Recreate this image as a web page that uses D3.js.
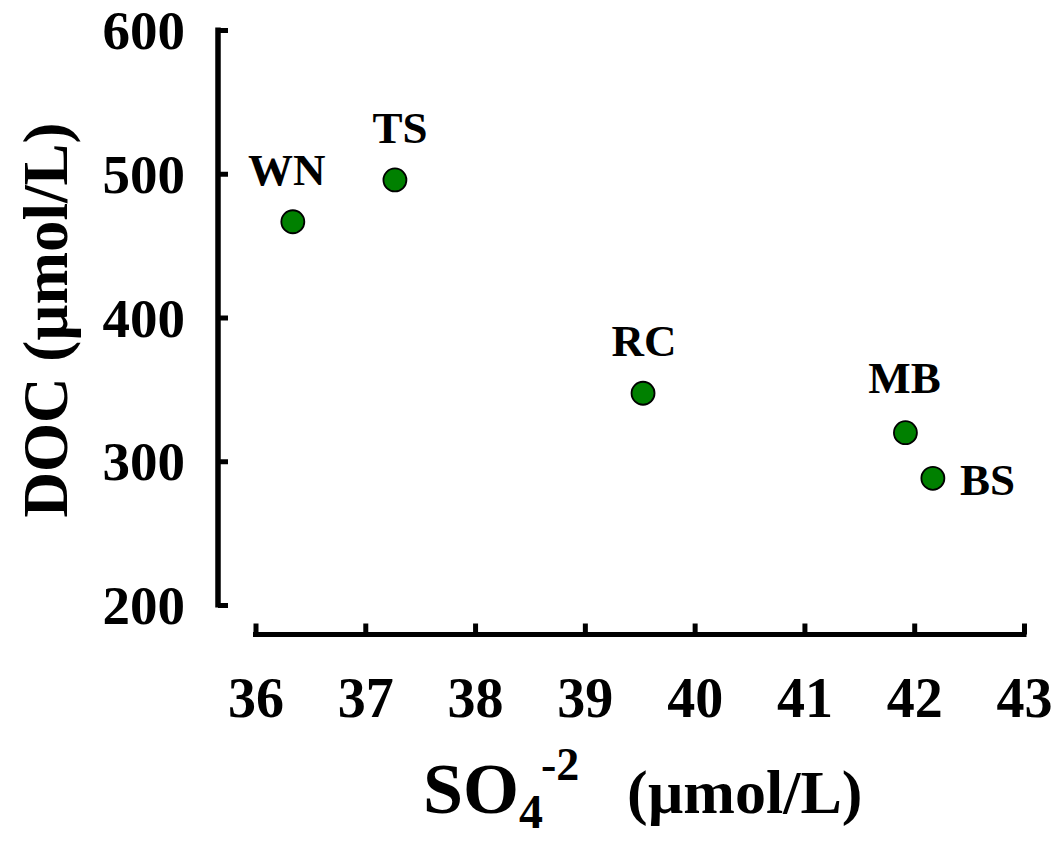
<!DOCTYPE html>
<html>
<head>
<meta charset="utf-8">
<script src="https://cdn.jsdelivr.net/npm/d3@7"></script>
<style>
  html, body { margin: 0; padding: 0; background: #fff; }
  svg { display: block; }
  text { font-family: "Liberation Serif", "Times New Roman", serif; font-weight: bold; fill: #000; }
</style>
</head>
<body>
<svg id="chart" width="1056" height="841"></svg>
<script>
// ---- data ----
const sites = ["WN", "TS", "RC", "MB", "BS"];
const sulfate = [36.34, 37.27, 39.53, 41.92, 42.17];   // SO4-2 (µmol/L)
const doc = [466.6, 495.7, 347.3, 319.9, 288.1];        // DOC (µmol/L)
const xTicks = [36, 37, 38, 39, 40, 41, 42, 43];
const yTicks = [200, 300, 400, 500, 600];

// ---- layout ----
const svg = d3.select("#chart");
const x = d3.scaleLinear().domain([36, 43]).range([255.5, 1024]);
const y = d3.scaleLinear().domain([200, 600]).range([605, 30]);

// label placement (layout only)
const labelPlace = {
  WN: { dx: -6, dy: -37, anchor: "middle" },
  TS: { dx: 5, dy: -37, anchor: "middle" },
  RC: { dx: 1, dy: -37, anchor: "middle" },
  MB: { dx: -1, dy: -40, anchor: "middle" },
  BS: { dx: 27, dy: 17, anchor: "start" }
};

// y axis
const yAxis = svg.append("g").attr("transform", "translate(218,0)")
  .call(d3.axisLeft(y).tickValues(yTicks).tickSize(-10).tickSizeOuter(0).tickPadding(0).tickFormat(d3.format("d")));
yAxis.select(".domain").attr("stroke", "#000").attr("stroke-width", 5.5).attr("d", `M0,${y(600)-2.5}V${y(200)+2.5}`);
yAxis.selectAll(".tick line").attr("stroke", "#000").attr("stroke-width", 5).attr("x1", 0);
yAxis.selectAll(".tick text")
  .attr("x", -33).attr("dy", "0.34em")
  .style("font-size", "55px").style("font-family", '"Liberation Serif", serif').style("font-weight", "bold")
  .attr("text-anchor", "end");

// x axis
const xAxis = svg.append("g").attr("transform", "translate(0,634.5)")
  .call(d3.axisBottom(x).tickValues(xTicks).tickSize(-11).tickSizeOuter(0).tickPadding(0).tickFormat(d3.format("d")));
xAxis.select(".domain").attr("stroke", "#000").attr("stroke-width", 5).attr("d", `M${x(36)-2.5},0H${x(43)+2.5}`);
xAxis.selectAll(".tick line").attr("stroke", "#000").attr("stroke-width", 5);
xAxis.selectAll(".tick text")
  .attr("y", 82).attr("dy", 0)
  .style("font-size", "56px").style("font-family", '"Liberation Serif", serif').style("font-weight", "bold");

// points
const pts = sites.map((s, i) => ({ site: s, sx: sulfate[i], dy: doc[i] }));
svg.append("g").selectAll("circle").data(pts).join("circle")
  .attr("cx", d => x(d.sx)).attr("cy", d => y(d.dy)).attr("r", 11.5)
  .attr("fill", "#008000").attr("stroke", "#000").attr("stroke-width", 1.8);

svg.append("g").selectAll("text").data(pts).join("text")
  .attr("x", d => x(d.sx) + labelPlace[d.site].dx)
  .attr("y", d => y(d.dy) + labelPlace[d.site].dy)
  .attr("text-anchor", d => labelPlace[d.site].anchor)
  .style("font-size", "45px")
  .text(d => d.site);

// x title
const xt = svg.append("text").attr("x", 423).attr("y", 813).attr("text-anchor", "start");
xt.append("tspan").style("font-size", "72px").text("SO");
xt.append("tspan").style("font-size", "48px").attr("dy", 15).text("4");
xt.append("tspan").style("font-size", "46px").attr("dx", -2).attr("dy", -48).text("-2");
xt.append("tspan").style("font-size", "62px").attr("x", 627).attr("dy", 33).text("(\u00b5mol/L)");

// y title
svg.append("text")
  .attr("transform", "translate(67,320) rotate(-90)")
  .attr("text-anchor", "middle")
  .style("font-size", "63px")
  .text("DOC (\u00b5mol/L)");
</script>
</body>
</html>
